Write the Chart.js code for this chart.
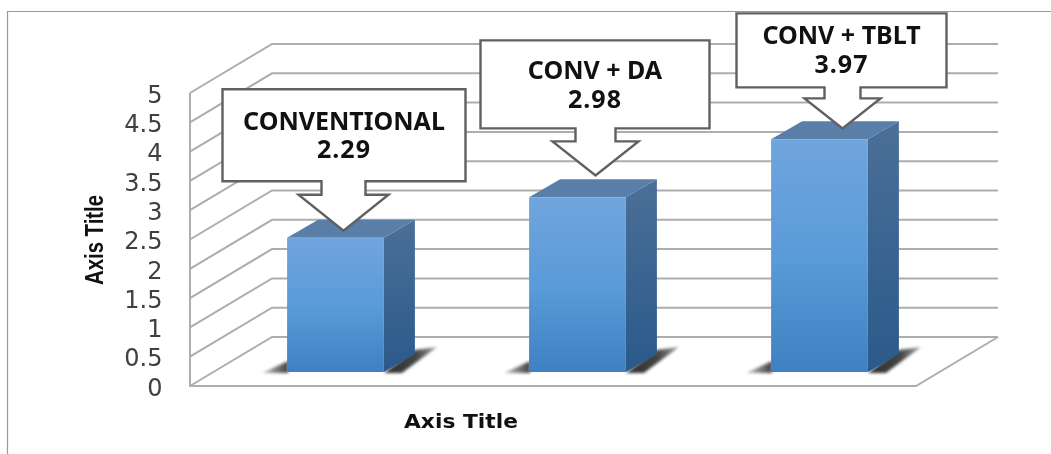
<!DOCTYPE html>
<html>
<head>
<meta charset="utf-8">
<style>html,body{margin:0;padding:0;background:#fff}canvas{display:block}</style>
<script src="https://cdn.jsdelivr.net/npm/chart.js@4"></script>
</head>
<body>
<canvas id="c" width="1051" height="454"></canvas>
<script>
const categories = ['CONVENTIONAL', 'CONV + DA', 'CONV + TBLT'];
const scores = [2.29, 2.98, 3.97];
const tickValues = [0, 0.5, 1, 1.5, 2, 2.5, 3, 3.5, 4, 4.5, 5];
const axisTitleX = 'Axis Title';
const axisTitleY = 'Axis Title';

// Pixel scale shared by both vertical axes, and the oblique projection of the box.
const PX_PER_UNIT = 58.6;
// The tick labels hang a little under their gridlines, so the axis sits LABEL_DROP low.
const LABEL_DROP = 3.5;
const AREA = { left: 214.5, right: 940.5, top: 79 + LABEL_DROP, bottom: 386 + LABEL_DROP };
const WALL = { dx: -24.5, depthX: 82, depthY: 49 };
const BAR_DEPTH = { x: 31, y: 18 };
const FLOOR_LIFT = 14 + LABEL_DROP;

// Callout geometry relative to the arrow tip, which is placed relative to its bar.
const calloutLayout = [
  { tipDx: 8, tipDy: -7, left: -121, right: 122, top: -141.5, bottom: -49.5, stem: 22, stemBottom: -36, wing: 45, textY: 33.5 },
  { tipDx: 18, tipDy: -22, left: -115, right: 114, top: -135, bottom: -47, stem: 20, stemBottom: -34, wing: 43, textY: 32 },
  { tipDx: 23, tipDy: -11, left: -106, right: 104, top: -115, bottom: -41, stem: 18, stemBottom: -30, wing: 38, textY: 24 }
];

function polygon(ctx, pts) {
  ctx.beginPath();
  pts.forEach((p, i) => i ? ctx.lineTo(p[0], p[1]) : ctx.moveTo(p[0], p[1]));
  ctx.closePath();
}

// Draws text squeezed or stretched to a given width, centred on the current origin.
function fittedText(ctx, text, x, y, width) {
  ctx.save();
  ctx.translate(x, y);
  ctx.scale(width / ctx.measureText(text).width, 1);
  ctx.fillText(text, 0, 0);
  ctx.restore();
}

function faceGradient(ctx, top, bottom, stops) {
  const g = ctx.createLinearGradient(0, top, 0, bottom);
  stops.forEach(([at, color]) => g.addColorStop(at, color));
  return g;
}

function sideGradient(ctx, from, to, stops) {
  const g = ctx.createLinearGradient(from, 0, to, 0);
  stops.forEach(([at, color]) => g.addColorStop(at, color));
  return g;
}

// Frame, floor and the gridlines that fold from the side wall onto the back wall.
const boxPlugin = {
  id: 'box',
  beforeDatasetsDraw(chart) {
    const { ctx } = chart;
    const y = chart.scales.y;
    const x0 = chart.chartArea.left + WALL.dx;
    const xEnd = chart.chartArea.right + WALL.dx;
    ctx.save();
    ctx.strokeStyle = '#9a9a9a';
    ctx.lineWidth = 1.2;
    ctx.beginPath();
    ctx.moveTo(7.5, 454); ctx.lineTo(7.5, 11.5); ctx.lineTo(1051, 11.5);
    ctx.stroke();

    ctx.strokeStyle = '#adadad';
    ctx.lineWidth = 2;
    y.ticks.forEach(t => {
      const py = y.getPixelForValue(t.value) - LABEL_DROP;
      ctx.beginPath();
      ctx.moveTo(x0, py);
      ctx.lineTo(x0 + WALL.depthX, py - WALL.depthY);
      ctx.lineTo(xEnd + WALL.depthX, py - WALL.depthY);
      ctx.stroke();
    });
    const p0 = y.getPixelForValue(0) - LABEL_DROP;
    const p5 = y.getPixelForValue(5) - LABEL_DROP;
    ctx.beginPath();
    ctx.moveTo(x0, p5); ctx.lineTo(x0, p0); ctx.lineTo(xEnd, p0);
    ctx.lineTo(xEnd + WALL.depthX, p0 - WALL.depthY);
    ctx.stroke();

    // Soft contact shadows and the side and top faces sit behind each front face.
    const meta = chart.getDatasetMeta(0);
    meta.data.forEach(bar => {
      const l = bar.x - bar.width / 2;
      const r = bar.x + bar.width / 2;
      const base = bar.base;
      ctx.save();
      ctx.filter = 'blur(1.5px)';
      ctx.fillStyle = sideGradient(ctx, r, r + 53, [[0, '#2e2e2e'], [0.6, '#444444'], [1, '#a0a0a0']]);
      polygon(ctx, [[r, base + 1], [r + BAR_DEPTH.x, base - 22], [r + 53, base - 25], [r + 18, base + 1]]);
      ctx.fill();
      ctx.fillStyle = sideGradient(ctx, l - 25, l + 1, [[0, '#c8c8c8'], [1, '#404040']]);
      polygon(ctx, [[l + 1, base - 11], [l - 25, base + 1], [l + 1, base + 1]]);
      ctx.fill();
      ctx.restore();

      ctx.fillStyle = faceGradient(ctx, bar.y - BAR_DEPTH.y, base, [[0, '#4b6f98'], [1, '#2a5a8a']]);
      polygon(ctx, [[r, bar.y], [r + BAR_DEPTH.x, bar.y - BAR_DEPTH.y], [r + BAR_DEPTH.x, base - BAR_DEPTH.y], [r, base]]);
      ctx.fill();
      ctx.fillStyle = '#597fa9';
      polygon(ctx, [[l, bar.y], [l + BAR_DEPTH.x, bar.y - BAR_DEPTH.y], [r + BAR_DEPTH.x, bar.y - BAR_DEPTH.y], [r, bar.y]]);
      ctx.fill();
    });
    ctx.restore();
  },
  afterDatasetsDraw(chart) {
    const { ctx } = chart;
    const meta = chart.getDatasetMeta(0);
    ctx.save();
    meta.data.forEach((bar, i) => {
      const c = calloutLayout[i];
      const tx = bar.x + c.tipDx;
      const ty = bar.y + c.tipDy;
      const top = Math.max(ty + c.top, 12);
      ctx.fillStyle = '#ffffff';
      ctx.strokeStyle = '#606060';
      ctx.lineWidth = 2.4;
      ctx.lineJoin = 'miter';
      polygon(ctx, [
        [tx + c.left, top], [tx + c.right, top], [tx + c.right, ty + c.bottom],
        [tx + c.stem, ty + c.bottom], [tx + c.stem, ty + c.stemBottom],
        [tx + c.wing, ty + c.stemBottom], [tx, ty],
        [tx - c.wing, ty + c.stemBottom], [tx - c.stem, ty + c.stemBottom],
        [tx - c.stem, ty + c.bottom], [tx + c.left, ty + c.bottom]
      ]);
      ctx.fill();
      ctx.stroke();

      const cx = tx + (c.left + c.right) / 2;
      ctx.fillStyle = '#111111';
      ctx.font = 'bold 25px "Noto Sans"';
      ctx.textAlign = 'center';
      ctx.textBaseline = 'middle';
      const lineY = top + c.textY;
      ctx.fillText(categories[i], cx, lineY);
      ctx.save();
      ctx.letterSpacing = '1px';
      ctx.fillText(scores[i].toFixed(2), cx, lineY + 28.5);
      ctx.restore();
    });

    // Axis titles sit off the plot centre, so they are set here at their own anchors.
    ctx.fillStyle = '#111111';
    ctx.textAlign = 'center';
    ctx.textBaseline = 'middle';
    ctx.font = 'bold 20px "DejaVu Sans"';
    fittedText(ctx, axisTitleX, 461, 423, 114);
    ctx.translate(96, 240);
    ctx.rotate(-Math.PI / 2);
    ctx.font = 'bold 25px "Liberation Sans"';
    fittedText(ctx, axisTitleY, 0, 0, 90);
    ctx.restore();
  }
};

const ctx = document.getElementById('c').getContext('2d');

new Chart(ctx, {
  type: 'bar',
  data: {
    labels: categories,
    datasets: [{
      label: 'Score',
      data: scores,
      yAxisID: 'yBar',
      // Each front face runs its own light-to-dark gradient from its top to the floor.
      backgroundColor(c) {
        const s = c.chart.scales.yBar;
        if (!s || !c.chart.chartArea) return '#5a9bd9';
        return faceGradient(c.chart.ctx, s.getPixelForValue(scores[c.dataIndex]), s.getPixelForValue(0),
          [[0, '#70a5dd'], [0.5, '#5a9bd9'], [1, '#3f80c2']]);
      },
      barPercentage: 0.4,
      categoryPercentage: 1
    }]
  },
  plugins: [boxPlugin],
  options: {
    responsive: false,
    animation: false,
    layout: {
      padding: {
        left: 0,
        top: AREA.top,
        right: 1051 - AREA.right,
        bottom: 454 - AREA.bottom
      }
    },
    plugins: { legend: { display: false }, tooltip: { enabled: false } },
    scales: {
      x: {
        type: 'category',
        display: false
      },
      // Value axis of the side wall: its zero lies on the front edge of the floor.
      // Invisible tick marks hold the labels away from the plot without reserving height.
      y: {
        type: 'linear',
        position: 'left',
        bounds: 'data',
        min: 0,
        max: (AREA.bottom - AREA.top) / PX_PER_UNIT,
        afterFit(scale) { scale.width = AREA.left; },
        afterBuildTicks(scale) { scale.ticks = tickValues.map(value => ({ value })); },
        grid: { color: 'transparent', drawOnChartArea: false, tickLength: 52 },
        border: { display: false },
        ticks: {
          autoSkip: false,
          padding: 0,
          color: '#404040',
          font: { family: '"DejaVu Sans"', size: 24 },
          callback: v => String(v)
        }
      },
      // Same pixels per unit, with zero lifted to where the bars stand on the floor.
      yBar: {
        type: 'linear',
        display: false,
        bounds: 'data',
        min: -FLOOR_LIFT / PX_PER_UNIT,
        max: (AREA.bottom - AREA.top - FLOOR_LIFT) / PX_PER_UNIT
      }
    }
  }
});
</script>
</body>
</html>
